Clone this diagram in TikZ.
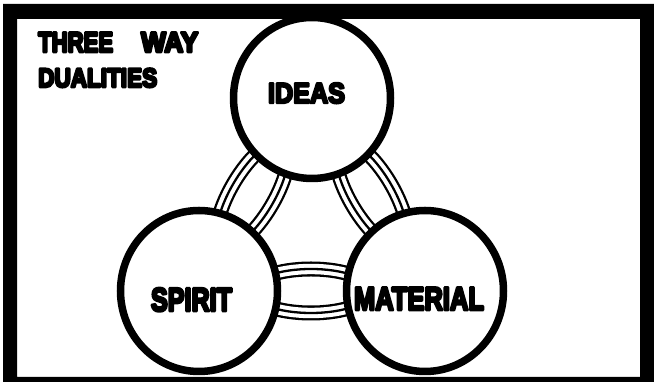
\documentclass[tikz,border=0pt]{standalone}
\usepackage{fontspec}
\usepackage{graphicx}
\newfontfamily\heavy{Liberation Sans Bold}
\usetikzlibrary{shapes.geometric,calc}
\pgfdeclarelayer{bg}
\pgfdeclarelayer{rings}
\pgfsetlayers{bg,rings,main}
\newcommand\tripring[2]{%
  \draw[black, line width=15pt, shift={(#1)}, rotate=#2] (0,0) ellipse [x radius=60, y radius=22];
  \draw[white, line width=10.4pt, shift={(#1)}, rotate=#2] (0,0) ellipse [x radius=60, y radius=22];
  \draw[black, line width=2.3pt, shift={(#1)}, rotate=#2] (0,0) ellipse [x radius=60, y radius=22];
}
\newcommand\fitword[3]{\resizebox{#1pt}{#2pt}{\special{pdf:literal direct 2 Tr 2.6 w 1 j}#3}}
\begin{document}
\begin{tikzpicture}[x=1pt,y=1pt,
  bigcircle/.style={ellipse, draw=black, line width=7.5pt, fill=white,
    minimum width=157pt, minimum height=161pt, inner sep=0pt},
  circlabel/.style={anchor=base, inner sep=0pt, font=\heavy\fontsize{30}{30}\selectfont},
  titlelabel/.style={anchor=base west, inner sep=0pt, font=\heavy\fontsize{26}{26}\selectfont}]
\useasboundingbox (0,0) rectangle (654,382);
\begin{pgfonlayer}{bg}
  \fill[white] (0,0) rectangle (654,382);
\end{pgfonlayer}
% circles
\node[bigcircle] (ideas) at (312,284) {};
\node[bigcircle] (spirit) at (199,91) {};
\node[bigcircle] (material) at (425,91) {};
% rings (behind circles)
\coordinate (rIS) at ($(ideas)!0.5!(spirit)+(-3,0)$);
\coordinate (rIM) at ($(ideas)!0.5!(material)+(3,0)$);
\coordinate (rSM) at ($(spirit)!0.5!(material)+(-1,0)$);
\begin{pgfonlayer}{rings}
  \tripring{rIS}{59.6}
  \tripring{rIM}{-59.6}
  \tripring{rSM}{0}
\end{pgfonlayer}
% labels
\node[circlabel] (tideas) at (306.5,279) {\fitword{77}{20}{IDEAS}};
\node[circlabel] (tspirit) at (191.5,71) {\fitword{81}{23}{SPIRIT}};
\node[circlabel] (tmaterial) at (419,72) {\fitword{130}{22.5}{MATERIAL}};
\node[titlelabel] (tthree) at (38,330) {\fitword{75}{19.5}{THREE}\hspace{28pt}\fitword{57}{19.5}{WAY}};
\node[titlelabel] (tdual) at (38,295) {\fitword{119}{18.5}{DUALITIES}};
% frame
\fill[black, even odd rule] (3,378) rectangle (654,0) (17,363) rectangle (640,5);
\end{tikzpicture}
\end{document}
